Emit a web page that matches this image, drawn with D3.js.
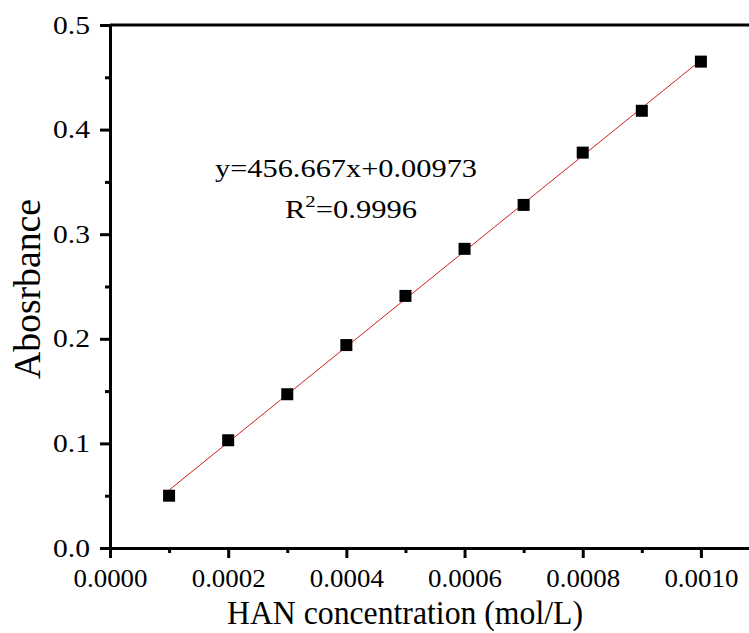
<!DOCTYPE html>
<html>
<head>
<meta charset="utf-8">
<script src="https://cdn.jsdelivr.net/npm/d3@7"></script>
<style>
  body { margin: 0; background: #fff; }
  svg text { font-family: "Liberation Serif", "Times New Roman", serif; fill: #000; }
  .axis path, .axis line { stroke: #000; stroke-width: 3px; }
  .axis text { font-size: 25px; font-family: "Liberation Serif", "Times New Roman", serif; }
</style>
</head>
<body>
<script>
// measured data
var conc = [0.0001, 0.0002, 0.0003, 0.0004, 0.0005, 0.0006, 0.0007, 0.0008, 0.0009, 0.0010];
var absorb = [0.050, 0.103, 0.147, 0.194, 0.241, 0.286, 0.328, 0.378, 0.418, 0.465];
var fitSlope = 456.667, fitIntercept = 0.00973;
var xTicks = [0, 0.0002, 0.0004, 0.0006, 0.0008, 0.0010];
var yTicks = [0, 0.1, 0.2, 0.3, 0.4, 0.5];
var xMinor = [0.0001, 0.0003, 0.0005, 0.0007, 0.0009];
var yMinor = [0.05, 0.15, 0.25, 0.35, 0.45];

var width = 749, height = 633;
var svg = d3.select("body").append("svg")
   .attr("width", width)
   .attr("height", height);

var x = d3.scaleLinear().domain([0, 0.0011]).range([110, 760]);
var y = d3.scaleLinear().domain([0, 0.5]).range([548, 25]);

// top frame line (right side runs off the page)
svg.append("line")
   .attr("x1", x(0)).attr("x2", x(0.0011))
   .attr("y1", y(0.5)).attr("y2", y(0.5))
   .attr("stroke", "black").attr("stroke-width", 3);

// minor ticks
svg.append("g")
   .attr("class", "axis")
   .attr("transform", "translate(0," + y(0) + ")")
   .call(d3.axisBottom(x).tickValues(xMinor).tickSize(5).tickFormat(""))
   .call(function(g) { g.select(".domain").remove(); });
svg.append("g")
   .attr("class", "axis")
   .attr("transform", "translate(" + x(0) + ",0)")
   .call(d3.axisLeft(y).tickValues(yMinor).tickSize(5).tickFormat(""))
   .call(function(g) { g.select(".domain").remove(); });

// major axes
var xAxis = svg.append("g")
   .attr("class", "axis")
   .attr("transform", "translate(0," + y(0) + ")")
   .call(d3.axisBottom(x).tickValues(xTicks).tickSize(10).tickSizeOuter(0).tickFormat(d3.format(".4f")));
xAxis.selectAll(".tick text")
   .attr("y", 39).attr("dy", 0)
   .attr("textLength", 74).attr("lengthAdjust", "spacingAndGlyphs");

var yAxis = svg.append("g")
   .attr("class", "axis")
   .attr("transform", "translate(" + x(0) + ",0)")
   .call(d3.axisLeft(y).tickValues(yTicks).tickSize(10).tickSizeOuter(0).tickPadding(10).tickFormat(d3.format(".1f")));
yAxis.selectAll(".tick text")
   .attr("textLength", 37).attr("lengthAdjust", "spacingAndGlyphs");

// fit line
var fitX = d3.extent(conc);
svg.append("line")
   .attr("x1", x(fitX[0])).attr("y1", y(fitSlope * fitX[0] + fitIntercept))
   .attr("x2", x(fitX[1])).attr("y2", y(fitSlope * fitX[1] + fitIntercept))
   .attr("stroke", "#d01c1c")
   .attr("stroke-width", 1);

// points
svg.selectAll("rect.pt")
   .data(conc)
   .enter()
   .append("rect")
   .attr("class", "pt")
   .attr("x", function(d) { return x(d) - 6; })
   .attr("y", function(d, i) { return y(absorb[i]) - 6; })
   .attr("width", 12)
   .attr("height", 12)
   .attr("fill", "black");

// equation
svg.append("text")
   .attr("x", 346).attr("y", 177)
   .attr("text-anchor", "middle")
   .attr("textLength", 262).attr("lengthAdjust", "spacingAndGlyphs")
   .style("font-size", "25px")
   .text("y=456.667x+0.00973");
var r2 = svg.append("text")
   .attr("x", 351).attr("y", 218)
   .attr("text-anchor", "middle")
   .attr("textLength", 132).attr("lengthAdjust", "spacingAndGlyphs")
   .style("font-size", "25px");
r2.append("tspan").text("R");
r2.append("tspan").attr("dy", -11).style("font-size", "17px").text("2");
r2.append("tspan").attr("dy", 11).text("=0.9996");

// axis titles
svg.append("text")
   .attr("x", 405).attr("y", 624)
   .attr("text-anchor", "middle")
   .attr("textLength", 356).attr("lengthAdjust", "spacingAndGlyphs")
   .style("font-size", "33px")
   .text("HAN concentration (mol/L)");
svg.append("text")
   .attr("transform", "translate(40,289) rotate(-90)")
   .attr("text-anchor", "middle")
   .attr("textLength", 180).attr("lengthAdjust", "spacingAndGlyphs")
   .style("font-size", "37px")
   .text("Abosrbance");
</script>
</body>
</html>
